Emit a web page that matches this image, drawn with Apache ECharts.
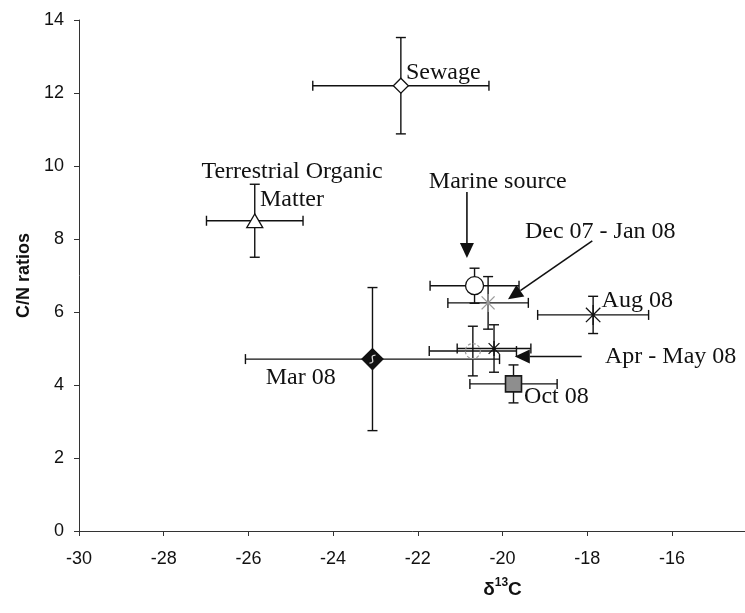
<!DOCTYPE html>
<html>
<head>
<meta charset="utf-8">
<script src="https://cdn.jsdelivr.net/npm/echarts@6/dist/echarts.min.js"></script>
<style>
  html, body { margin: 0; padding: 0; background: #ffffff; }
  #chart { width: 745px; height: 613px; }
</style>
</head>
<body>
<div id="chart"></div>
<script>
// Source end-members and sampling periods: mean δ13C, mean C/N and their standard deviations
const groups  = ['Sewage', 'Terrestrial Organic Matter', 'Marine source', 'Dec 07 - Jan 08',
                 'Apr - May 08', 'Mar 08', 'Aug 08', 'Oct 08', 'Unlabelled group'];
const d13C    = [-22.40, -25.85, -20.66, -20.34, -20.20, -23.07, -17.86, -19.74, -20.70];
const cnRatio = [ 12.20,   8.50,   6.72,   6.25,   5.00,   4.71,   5.92,   4.03,   4.93];
const d13CSd  = [  2.08,   1.14,   1.05,   0.95,   0.87,   3.00,   1.31,   1.03,   1.03];
const cnSd    = [  1.32,   1.00,   0.48,   0.72,   0.65,   1.96,   0.51,   0.52,   0.68];

// Axis ticks
const xTicks = { min: -30, max: -10, step: 2, lastShown: -16 };
const yTicks = { min: 0, max: 14, step: 2 };

// Text annotations (anchored in data units) and their pointer arrows
const noteText  = ['Sewage', 'Terrestrial Organic\nMatter', 'Marine source', 'Dec 07 - Jan 08',
                   'Aug 08', 'Apr - May 08', 'Mar 08', 'Oct 08'];
const noteX     = [-22.28, -24.97, -21.74, -19.47, -17.66, -17.58, -25.59, -19.49];
const noteY     = [ 12.55,   9.46,   9.56,   8.20,   6.30,   4.78,   4.19,   3.68];
const noteAlign = ['left', 'center', 'left', 'left', 'left', 'left', 'left', 'left'];

const arrowFromX = [-20.84, -17.88, -18.13];
const arrowFromY = [  9.29,   7.95,   4.78];
const arrowToX   = [-20.84, -19.87, -19.71];
const arrowToY   = [  7.48,   6.35,   4.78];

// Marker appearance for each group (same order as `groups`)
const markerStyle = [
  { shape: 'diamond',  size: 15, fill: '#ffffff', stroke: '#111111', width: 1.3 },
  { shape: 'triangle', size: 16, fill: '#ffffff', stroke: '#111111', width: 1.3 },
  { shape: 'circle',   size: 18, fill: '#ffffff', stroke: '#111111', width: 1.3 },
  { shape: 'star',     size: 18, fill: 'none',    stroke: '#9a9a9a', width: 1.3 },
  { shape: 'star',     size: 15, fill: 'none',    stroke: '#111111', width: 1.3 },
  { shape: 'diamond',  size: 21, fill: '#111111', stroke: '#111111', width: 1.3, glyph: true },
  { shape: 'star',     size: 20, fill: 'none',    stroke: '#111111', width: 1.3 },
  { shape: 'square',   size: 16, fill: '#8e8e8e', stroke: '#1a1a1a', width: 1.6 },
  { shape: 'circle',   size: 15, fill: 'none',    stroke: '#9a9a9a', width: 1.2, dash: [3, 2] }
];

const INK = '#111111';
const SERIF = '"Liberation Serif", "Times New Roman", serif';
const SANS = '"Liberation Sans", Arial, sans-serif';

function renderErrorBars(params, api) {
  const x = api.value(0), y = api.value(1), ex = api.value(2), ey = api.value(3);
  const L = api.coord([x - ex, y]), R = api.coord([x + ex, y]);
  const T = api.coord([x, y + ey]), B = api.coord([x, y - ey]);
  const cap = 5;
  const style = { stroke: INK, lineWidth: 1.4 };
  const seg = (x1, y1, x2, y2) => ({ type: 'line', shape: { x1, y1, x2, y2 }, style });
  return {
    type: 'group',
    children: [
      seg(L[0], L[1], R[0], R[1]),
      seg(L[0], L[1] - cap, L[0], L[1] + cap),
      seg(R[0], R[1] - cap, R[0], R[1] + cap),
      seg(T[0], T[1], B[0], B[1]),
      seg(T[0] - cap, T[1], T[0] + cap, T[1]),
      seg(B[0] - cap, B[1], B[0] + cap, B[1])
    ]
  };
}

function renderMarker(params, api) {
  const i = params.dataIndex;
  const s = markerStyle[i];
  const c = api.coord([api.value(0), api.value(1)]);
  const r = s.size / 2;
  const style = { fill: s.fill, stroke: s.stroke, lineWidth: s.width, lineDash: s.dash || null };
  const cx = c[0], cy = c[1];
  if (s.shape === 'circle') {
    return { type: 'circle', shape: { cx, cy, r }, style };
  }
  if (s.shape === 'square') {
    return { type: 'rect', shape: { x: cx - r, y: cy - r, width: s.size, height: s.size }, style };
  }
  if (s.shape === 'diamond') {
    const body = { type: 'polygon', shape: { points: [[cx, cy - r], [cx + r, cy], [cx, cy + r], [cx - r, cy]] }, style };
    if (!s.glyph) return body;
    // small white squiggle inside the filled diamond
    return {
      type: 'group',
      children: [
        body,
        { type: 'bezierCurve',
          shape: { x1: cx + 3, y1: cy - 4, cpx1: cx - 5, cpy1: cy - 4, cpx2: cx + 5, cpy2: cy + 4, x2: cx - 3, y2: cy + 4 },
          style: { stroke: '#d8d8d8', lineWidth: 1.3, fill: 'none' } }
      ]
    };
  }
  if (s.shape === 'triangle') {
    const h = r * 0.85;
    return { type: 'polygon', shape: { points: [[cx, cy - h], [cx + r, cy + h], [cx - r, cy + h]] }, style };
  }
  // star: an "x" crossed by a vertical stroke
  const d = r * 0.72;
  const line = (x1, y1, x2, y2) => ({ type: 'line', shape: { x1, y1, x2, y2 }, style: { stroke: s.stroke, lineWidth: s.width } });
  return {
    type: 'group',
    children: [
      line(cx, cy - r, cx, cy + r),
      line(cx - d, cy - d, cx + d, cy + d),
      line(cx - d, cy + d, cx + d, cy - d),
      { type: 'circle', shape: { cx, cy, r: 1.6 }, style: { fill: s.stroke } }
    ]
  };
}

function renderNote(params, api) {
  const i = params.dataIndex;
  const c = api.coord([api.value(0), api.value(1)]);
  return {
    type: 'text',
    x: c[0], y: c[1],
    style: {
      text: noteText[i],
      fill: INK,
      fontFamily: SERIF,
      fontSize: 24,
      lineHeight: 28,
      align: noteAlign[i],
      verticalAlign: 'middle'
    }
  };
}

function renderArrow(params, api) {
  const p = api.coord([api.value(0), api.value(1)]);
  const q = api.coord([api.value(2), api.value(3)]);
  const dx = q[0] - p[0], dy = q[1] - p[1];
  const len = Math.hypot(dx, dy);
  const ux = dx / len, uy = dy / len;
  const head = 15, half = 7;
  const bx = q[0] - ux * head, by = q[1] - uy * head;
  return {
    type: 'group',
    children: [
      { type: 'line', shape: { x1: p[0], y1: p[1], x2: bx, y2: by }, style: { stroke: INK, lineWidth: 1.6 } },
      { type: 'polygon', shape: { points: [[q[0], q[1]], [bx - uy * half, by + ux * half], [bx + uy * half, by - ux * half]] },
        style: { fill: INK } }
    ]
  };
}

const chart = echarts.init(document.getElementById('chart'), null, { renderer: 'canvas' });

chart.setOption({
  animation: false,
  backgroundColor: '#ffffff',
  // the plotting frame runs on past the right edge of the page (to δ13C = -10)
  grid: { left: 79, top: 20, width: 847, height: 511, containLabel: false, outerBoundsMode: 'none' },
  xAxis: {
    type: 'value',
    min: xTicks.min, max: xTicks.max, interval: xTicks.step,
    axisLine: { show: true, onZero: false, lineStyle: { color: '#333333', width: 1 } },
    axisTick: { show: true, length: 5, lineStyle: { color: '#333333' } },
    splitLine: { show: false },
    axisLabel: {
      margin: 19,
      fontFamily: SANS, fontSize: 18, color: INK,
      formatter: v => (v <= xTicks.lastShown ? String(v) : '')
    },
    name: '{d|δ}{s|13}{d|C}',
    nameLocation: 'middle',
    nameGap: 46,
    nameTextStyle: {
      rich: {
        d: { fontFamily: SANS, fontSize: 19, fontWeight: 'bold', color: INK, lineHeight: 22, verticalAlign: 'bottom' },
        s: { fontFamily: SANS, fontSize: 12, fontWeight: 'bold', color: INK, lineHeight: 22, verticalAlign: 'top' }
      }
    }
  },
  yAxis: {
    type: 'value',
    min: yTicks.min, max: yTicks.max, interval: yTicks.step,
    axisLine: { show: true, onZero: false, lineStyle: { color: '#333333', width: 1 } },
    axisTick: { show: true, length: 5, lineStyle: { color: '#333333' } },
    splitLine: { show: false },
    axisLabel: { margin: 15, fontFamily: SANS, fontSize: 18, color: INK },
    name: 'C/N ratios',
    nameLocation: 'middle',
    nameGap: 37,
    nameTextStyle: { fontFamily: SANS, fontSize: 18, fontWeight: 'bold', color: INK }
  },
  series: [
    {
      name: 'error bars',
      type: 'custom',
      renderItem: renderErrorBars,
      clip: false,
      z: 2,
      encode: { x: 0, y: 1 },
      data: groups.map((g, i) => [d13C[i], cnRatio[i], d13CSd[i], cnSd[i]])
    },
    {
      name: 'markers',
      type: 'custom',
      renderItem: renderMarker,
      clip: false,
      z: 3,
      encode: { x: 0, y: 1 },
      data: groups.map((g, i) => [d13C[i], cnRatio[i]])
    },
    {
      name: 'arrows',
      type: 'custom',
      renderItem: renderArrow,
      clip: false,
      z: 4,
      encode: { x: [0, 2], y: [1, 3] },
      data: arrowFromX.map((v, i) => [v, arrowFromY[i], arrowToX[i], arrowToY[i]])
    },
    {
      name: 'notes',
      type: 'custom',
      renderItem: renderNote,
      clip: false,
      z: 5,
      encode: { x: 0, y: 1 },
      data: noteText.map((t, i) => [noteX[i], noteY[i]])
    }
  ]
});
</script>
</body>
</html>
